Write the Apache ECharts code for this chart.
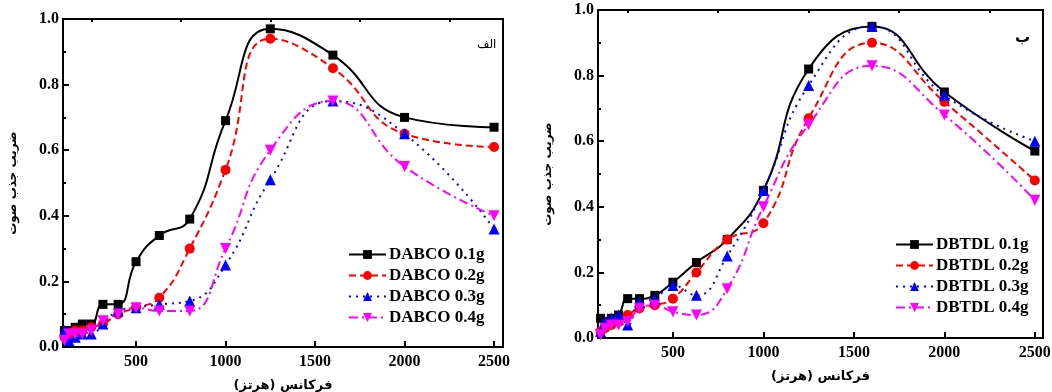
<!DOCTYPE html>
<html>
<head>
<meta charset="utf-8">
<script src="https://cdn.jsdelivr.net/npm/echarts@6/dist/echarts.min.js"></script>
<style>
  html, body { margin: 0; padding: 0; background: #fff; }
  #chart { width: 1052px; height: 392px; }
</style>
</head>
<body>
<div id="chart"></div>
<script>
// frequencies (Hz), 1/3 octave bands
const freqs = [100, 125, 160, 200, 250, 315, 400, 500, 630, 800, 1000, 1250, 1600, 2000, 2500]

// panel الف — DABCO
const dabco01 = [0.05, 0.05, 0.06, 0.07, 0.07, 0.13, 0.13, 0.26, 0.34, 0.39, 0.69, 0.97, 0.89, 0.70, 0.67]
const dabco02 = [0.03, 0.04, 0.05, 0.05, 0.06, 0.07, 0.10, 0.12, 0.15, 0.30, 0.54, 0.94, 0.85, 0.65, 0.61]
const dabco03 = [0.05, 0.02, 0.03, 0.04, 0.04, 0.07, 0.11, 0.12, 0.13, 0.14, 0.25, 0.51, 0.75, 0.65, 0.36]
const dabco04 = [0.02, 0.04, 0.04, 0.04, 0.05, 0.08, 0.10, 0.12, 0.11, 0.11, 0.30, 0.60, 0.75, 0.55, 0.40]

// panel ب — DBTDL
const dbtdl01 = [0.06, 0.05, 0.06, 0.07, 0.12, 0.12, 0.13, 0.17, 0.23, 0.30, 0.45, 0.82, 0.95, 0.75, 0.57]
const dbtdl02 = [0.02, 0.03, 0.04, 0.05, 0.07, 0.09, 0.10, 0.12, 0.20, 0.30, 0.35, 0.67, 0.90, 0.72, 0.48]
const dbtdl03 = [0.02, 0.05, 0.06, 0.07, 0.04, 0.11, 0.12, 0.16, 0.13, 0.25, 0.45, 0.77, 0.95, 0.74, 0.60]
const dbtdl04 = [0.01, 0.03, 0.04, 0.04, 0.05, 0.09, 0.10, 0.08, 0.07, 0.15, 0.40, 0.65, 0.83, 0.68, 0.42]

const majorTicks = [500, 1000, 1500, 2000, 2500]
const minorTicks = [250, 750, 1250, 1750, 2250]

const numFont = 'Liberation Serif'
const faFont = 'DejaVu Sans'

const styles = [
  { color: '#000000', symbol: 'rect', rotate: 0, size: 9, type: 'solid' },
  { color: '#ff0000', symbol: 'circle', rotate: 0, size: 10, type: [7, 4] },
  { color: '#0000ff', symbol: 'triangle', rotate: 0, size: 11, type: [2, 5] },
  { color: '#ff00ff', symbol: 'triangle', rotate: 180, size: 11, type: [9, 4, 2, 4] }
]

function xAxes(grid, min, max) {
  return [
    {
      type: 'value', gridIndex: grid, min, max,
      splitLine: { show: false },
      axisLine: { lineStyle: { color: '#000', width: 2 } },
      axisTick: { inside: true, length: 6, customValues: majorTicks, lineStyle: { color: '#000', width: 2 } },
      axisLabel: {
        customValues: majorTicks, margin: 7, formatter: v => String(v),
        fontFamily: numFont, fontWeight: 'bold', fontSize: 16, color: '#000'
      },
      name: 'فرکانس (هرتز)', nameLocation: 'middle', nameGap: 32,
      nameTextStyle: { fontFamily: faFont, fontWeight: 'bold', fontSize: 13, color: '#000' }
    },
    {
      type: 'value', gridIndex: grid, min, max,
      splitLine: { show: false },
      axisLine: { show: false },
      axisTick: { inside: true, length: 3, customValues: minorTicks, lineStyle: { color: '#000', width: 2 } },
      axisLabel: { show: false }
    }
  ]
}

function yAxis(grid) {
  return {
    type: 'value', gridIndex: grid, min: 0, max: 1, interval: 0.2,
    splitLine: { show: false },
    axisLine: { show: true, lineStyle: { color: '#000', width: 2 } },
    axisTick: { inside: true, length: 6, lineStyle: { color: '#000', width: 2 } },
    minorTick: { show: true, splitNumber: 2, length: 3, lineStyle: { color: '#000', width: 2 } },
    axisLabel: {
      margin: 4, formatter: v => v.toFixed(1),
      fontFamily: numFont, fontWeight: 'bold', fontSize: 16, color: '#000'
    },
    name: 'ضریب جذب صوت', nameLocation: 'middle', nameGap: 44, nameRotate: 90,
    nameTextStyle: { fontFamily: faFont, fontWeight: 'bold', fontSize: 12, color: '#000' }
  }
}

function makeSeries(name, values, i, xIdx, yIdx) {
  const s = styles[i]
  return {
    name, type: 'line', xAxisIndex: xIdx, yAxisIndex: yIdx,
    data: freqs.map((f, k) => [f, values[k]]),
    smooth: 0.5,
    symbol: s.symbol, symbolSize: s.size, symbolRotate: s.rotate,
    itemStyle: { color: s.color },
    lineStyle: { color: s.color, width: 2, type: s.type },
    emphasis: { disabled: true }
  }
}

function legend(names, left, top) {
  return {
    data: names, orient: 'vertical', left, top,
    itemWidth: 37, itemHeight: 11, itemGap: 4,
    symbolRotate: 'inherit',
    textStyle: { fontFamily: numFont, fontWeight: 'bold', fontSize: 17, lineHeight: 17, color: '#000', padding: [0, 0, 0, -2] }
  }
}

const leftNames = ['DABCO 0.1g', 'DABCO 0.2g', 'DABCO 0.3g', 'DABCO 0.4g']
const rightNames = ['DBTDL 0.1g', 'DBTDL 0.2g', 'DBTDL 0.3g', 'DBTDL 0.4g']
const leftData = [dabco01, dabco02, dabco03, dabco04]
const rightData = [dbtdl01, dbtdl02, dbtdl03, dbtdl04]

const chart = echarts.init(document.getElementById('chart'))
chart.setOption({
  animation: false,
  backgroundColor: '#fff',
  title: [
    { text: 'الف', left: 472, top: 34, textStyle: { fontFamily: faFont, fontSize: 12, fontWeight: 'normal', color: '#000' } },
    { text: 'ب', left: 1010, top: 26, textStyle: { fontFamily: faFont, fontSize: 15, fontWeight: 'bold', color: '#000' } }
  ],
  grid: [
    { left: 63, top: 19, width: 440, height: 328, outerBoundsMode: 'none', show: true, borderColor: '#000', borderWidth: 2 },
    { left: 598, top: 10, width: 445, height: 328, outerBoundsMode: 'none', show: true, borderColor: '#000', borderWidth: 2 }
  ],
  xAxis: [...xAxes(0, 92, 2550), ...xAxes(1, 86, 2545)],
  yAxis: [yAxis(0), yAxis(1)],
  legend: [legend(leftNames, 343, 241), legend(rightNames, 890, 231)],
  series: [
    ...leftData.map((d, i) => makeSeries(leftNames[i], d, i, 0, 0)),
    ...rightData.map((d, i) => makeSeries(rightNames[i], d, i, 2, 1))
  ]
})
</script>
</body>
</html>
